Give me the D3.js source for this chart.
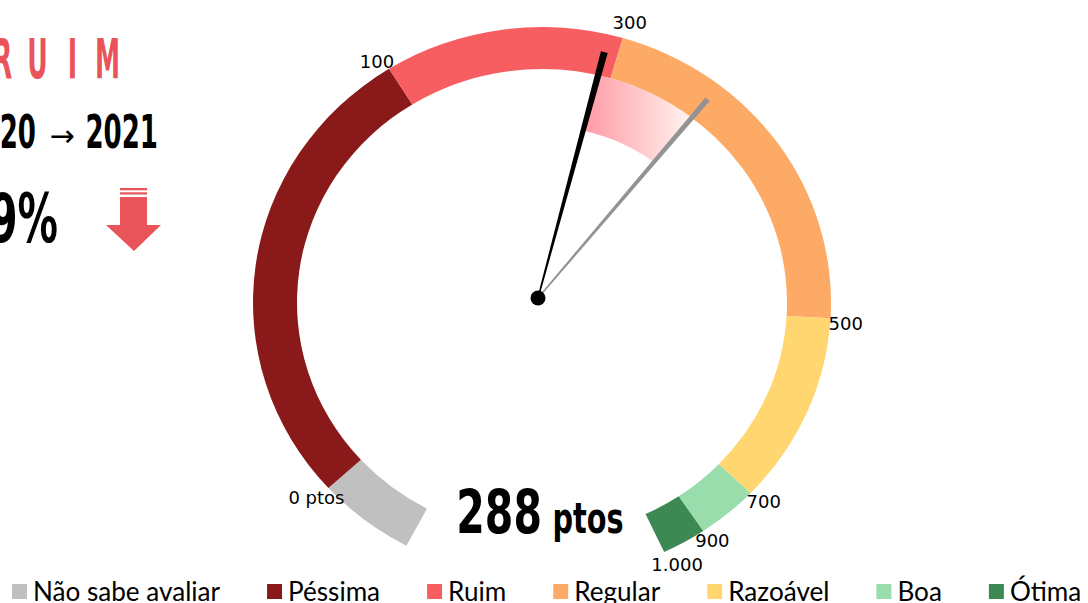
<!DOCTYPE html>
<html>
<head>
<meta charset="utf-8">
<script src="https://cdn.jsdelivr.net/npm/d3@7"></script>
<style>
  body { margin: 0; background: #fff; overflow: hidden; }
</style>
</head>
<body>
<div id="chart"></div>
<script>
// Distribution of answers (share of respondents, %)
const categories = ["Não sabe avaliar", "Péssima", "Ruim", "Regular", "Razoável", "Boa", "Ótima"];
const shares = [6.4, 32.7, 15.7, 25.1, 13.2, 4.0, 2.9];
const colors = ["#c0c0c0", "#8a1a1a", "#f75e62", "#fcaa66", "#ffd66f", "#98ddab", "#3c8954"];

// score scale marks at the slice boundaries
const scoreTicks = [0, 100, 300, 500, 700, 900, 1000];
const tickLabels = ["0 ptos", "100", "300", "500", "700", "900", "1.000"];

const score2021 = 288;
const score2020 = 356;
const title = "RUIM";
const years = ["2020", "2021"];
const change = "-19%";

const W = 1088, H = 603;
const deg = Math.PI / 180;
const condensed = "'Liberation Sans Narrow','DejaVu Sans Condensed','Arial Narrow',sans-serif";

const svg = d3.select("#chart")
    .append("svg")
    .attr("width", W)
    .attr("height", H);

const defs = svg.append("defs");

// gauge geometry (the ring is slightly squashed vertically)
const cx = 542, cy = 302.5, yScale = 0.953;
const rOuter = 289, rInner = 245;

const pie = d3.pie()
    .sort(null)
    .value(d => d)
    .startAngle(-152 * deg)
    .endAngle(155 * deg);
const arcs = pie(shares);

const arc = d3.arc().innerRadius(rInner).outerRadius(rOuter);

const gauge = svg.append("g")
    .attr("transform", `translate(${cx},${cy}) scale(1,${yScale})`);

gauge.selectAll(".seg")
    .data(arcs)
    .enter()
    .append("path")
    .attr("class", "seg")
    .attr("d", arc)
    .attr("fill", (d, i) => colors[i]);

// score -> angle, piecewise through the slice boundaries
const boundaries = arcs.slice(1).map(d => d.startAngle).concat([arcs[arcs.length - 1].endAngle]);
const angle = d3.scaleLinear().domain(scoreTicks).range(boundaries);

// shaded drop between the two years
const grad = defs.append("linearGradient")
    .attr("id", "drop")
    .attr("x1", 0).attr("x2", 1).attr("y1", 0).attr("y2", 0);
grad.append("stop").attr("offset", 0).attr("stop-color", "#ff9ba6");
grad.append("stop").attr("offset", 1).attr("stop-color", "#fff4f0");

gauge.append("path")
    .attr("d", d3.arc()({
        innerRadius: 185,
        outerRadius: rInner,
        startAngle: angle(score2021),
        endAngle: angle(score2020)
    }))
    .attr("fill", "url(#drop)");

// boundary labels
function ringPoint(a, r) {
    return [cx + r * Math.sin(a), cy - yScale * r * Math.cos(a)];
}
const labelNudge = [[-12, 16, "middle"], [-12, -1, "middle"], [7, -9, "middle"],
    [-2, 12, "start"], [-4, 15, "start"], [-8, 16, "start"], [13, 19, "middle"]];

svg.selectAll(".tick-label")
    .data(scoreTicks)
    .enter()
    .append("text")
    .attr("class", "tick-label")
    .attr("x", (d, i) => ringPoint(angle(d), rOuter)[0] + labelNudge[i][0])
    .attr("y", (d, i) => ringPoint(angle(d), rOuter)[1] + labelNudge[i][1])
    .attr("text-anchor", (d, i) => labelNudge[i][2])
    .attr("font-family", "'DejaVu Sans', Verdana, sans-serif")
    .attr("font-size", 18)
    .attr("fill", "#000")
    .text((d, i) => tickLabels[i]);

// needles
const pivot = [538, 298];
function needle(value, r, wTip, wBase, color) {
    const [tx, ty] = ringPoint(angle(value), r);
    const dx = tx - pivot[0], dy = ty - pivot[1];
    const len = Math.hypot(dx, dy);
    const nx = -dy / len, ny = dx / len;
    const pts = [
        [pivot[0] + nx * wBase / 2, pivot[1] + ny * wBase / 2],
        [tx + nx * wTip / 2, ty + ny * wTip / 2],
        [tx - nx * wTip / 2, ty - ny * wTip / 2],
        [pivot[0] - nx * wBase / 2, pivot[1] - ny * wBase / 2]
    ];
    svg.append("path")
        .attr("d", d3.line()(pts) + "Z")
        .attr("fill", color);
}
needle(score2020, 270, 5.5, 1.5, "#939393");
needle(score2021, 270, 7, 1.5, "#000");

svg.append("circle")
    .attr("cx", pivot[0])
    .attr("cy", pivot[1])
    .attr("r", 7.5)
    .attr("fill", "#000");

// central score
const scoreText = svg.append("g")
    .attr("transform", "translate(540,533) scale(0.76,1)")
    .append("text")
    .attr("text-anchor", "middle")
    .attr("font-family", condensed)
    .attr("font-weight", "bold")
    .attr("fill", "#000");
scoreText.append("tspan").attr("font-size", 60).text(score2021);
scoreText.append("tspan").attr("font-size", 42).attr("dx", 14).text("ptos");

// header on the left (cut by the frame)
function squeezed(x, y, txt, size, sx, anchor, color, weight, family) {
    svg.append("g")
        .attr("transform", `translate(${x},${y}) scale(${sx},1)`)
        .append("text")
        .attr("text-anchor", anchor)
        .attr("font-family", family || condensed)
        .attr("font-size", size)
        .attr("font-weight", weight)
        .attr("fill", color)
        .text(txt);
}

title.split("").forEach((ch, i) => {
    squeezed(107.5 - (title.length - 1 - i) * 35, 78, ch, 56, 0.5, "middle", "#e9545b", "bold");
});

squeezed(36, 148, years[0], 46, 0.63, "end", "#000", "bold");
squeezed(62, 146, "→", 30, 1, "middle", "#000", "normal", "'DejaVu Sans', sans-serif");
squeezed(158, 148, years[1], 46, 0.63, "end", "#000", "bold");
squeezed(58, 242, change, 68, 0.66, "end", "#000", "bold");

// red down arrow
const arrow = svg.append("g").attr("fill", "#e9545b");
arrow.append("rect").attr("x", 120).attr("y", 188).attr("width", 27).attr("height", 2.3);
arrow.append("rect").attr("x", 120).attr("y", 192.3).attr("width", 27).attr("height", 2.2);
arrow.append("path").attr("d", "M120,197 H147 V225 H161 L134,251 L106,225 H120 Z");

// legend
const legend = svg.append("g").attr("transform", "translate(12,0)");
let lx = 0;
categories.forEach((c, i) => {
    const item = legend.append("g").attr("transform", `translate(${lx},0)`);
    item.append("rect")
        .attr("x", 0).attr("y", 584)
        .attr("width", 15).attr("height", 15)
        .attr("fill", colors[i]);
    const t = item.append("text")
        .attr("x", 21).attr("y", 601)
        .attr("font-family", "Lato, 'Noto Sans', sans-serif")
        .attr("font-size", 26.1)
        .attr("fill", "#000")
        .text(c);
    lx += 21 + t.node().getComputedTextLength() + 47;
});
</script>
</body>
</html>
